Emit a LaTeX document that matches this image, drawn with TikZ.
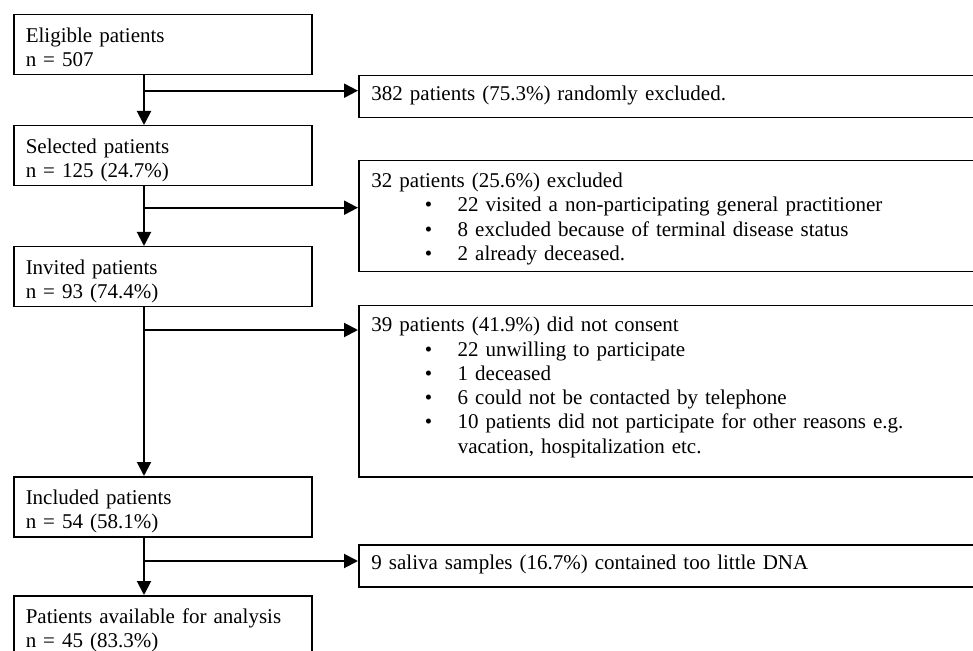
\documentclass[tikz,border=0pt]{standalone}
\usepackage{fontspec}
\setmainfont{Liberation Serif}
\usetikzlibrary{arrows.meta, positioning}

\newcommand{\bitem}[1]{\makebox[43.15pt][l]{\hspace*{26.65pt}\textbullet}#1}

\tikzset{
  txt/.style={font=\fontsize{10.5pt}{12.15pt}\selectfont},
  stage/.style={txt, draw, line width=0.75pt, anchor=north west, align=left,
    text width=137pt, inner xsep=6pt, inner ysep=0pt,
    text height=13.85pt, text depth=16.15pt},
  drop/.style={txt, draw, line width=0.75pt, anchor=north west, align=left,
    text width=300pt, inner xsep=6.35pt, inner ysep=0pt},
  flow/.style={line width=1pt, -{Triangle[length=7pt,width=7pt]}}
}

\begin{document}
\begin{tikzpicture}[x=0.5pt,y=-0.5pt]
\useasboundingbox (0,0) rectangle (973,651);
\clip (0,0) rectangle (973,651);

% main stages
\node[stage] (eligible) at (13,14) {Eligible patients\\n = 507};
\node[stage] (selected) at (13,125) {Selected patients\\n = 125 (24.7\%)};
\node[stage] (invited) at (13,246) {Invited patients\\n = 93 (74.4\%)};
\node[stage] (included) at (13,476) {Included patients\\n = 54 (58.1\%)};
\node[stage] (analysed) at (13,595) {Patients available for analysis\\n = 45 (83.3\%)};

% exclusions
\node[drop, text height=12.5pt, text depth=8.5pt] (random) at (358,75)
  {382 patients (75.3\%) randomly excluded.};
\node[drop, text height=13.35pt, text depth=42.15pt] (excl) at (358,160)
  {32 patients (25.6\%) excluded\\
   \bitem{22 visited a non-participating general practitioner}\\
   \bitem{8 excluded because of terminal disease status}\\
   \bitem{2 already deceased.}};
\node[drop, text height=13pt, text depth=72.5pt] (consent) at (358,305)
  {39 patients (41.9\%) did not consent\\
   \bitem{22 unwilling to participate}\\
   \bitem{1 deceased}\\
   \bitem{6 could not be contacted by telephone}\\
   \bitem{10 patients did not participate for other reasons e.g.}\\
   \hspace*{43.15pt}vacation, hospitalization etc.};
\node[drop, text height=12.5pt, text depth=8.5pt] (saliva) at (358,544)
  {9 saliva samples (16.7\%) contained too little DNA};

% spine and branches
\coordinate (spine) at (144,0);
\coordinate (b1) at (144,90.7);
\coordinate (b2) at (144,207.7);
\coordinate (b3) at (144,330);
\coordinate (b4) at (144,561);

\draw[flow] (spine |- eligible.south) -- (spine |- selected.north);
\draw[flow] (spine |- selected.south) -- (spine |- invited.north);
\draw[flow] (spine |- invited.south) -- (spine |- included.north);
\draw[flow] (spine |- included.south) -- (spine |- analysed.north);

\draw[flow] (b1) -- (b1 -| random.west);
\draw[flow] (b2) -- (b2 -| excl.west);
\draw[flow] (b3) -- (b3 -| consent.west);
\draw[flow] (b4) -- (b4 -| saliva.west);
\end{tikzpicture}
\end{document}
